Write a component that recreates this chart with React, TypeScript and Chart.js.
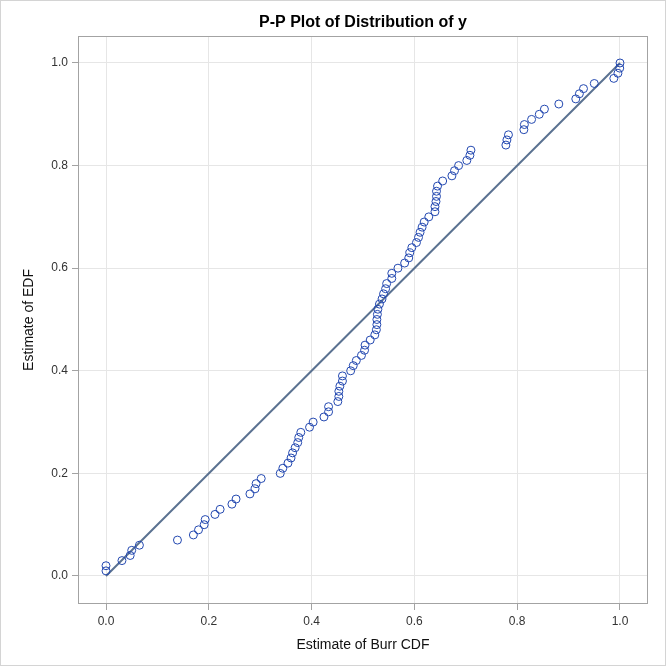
import React, { useEffect, useRef } from "react";
import { Chart, registerables } from "chart.js";

Chart.register(...registerables);

// Estimate of Burr CDF (x) for each sorted observation
const burrCdf: number[] = [
  0.0, 0.0, 0.031, 0.047, 0.05, 0.065, 0.139, 0.17, 0.18, 0.191,
  0.193, 0.212, 0.222, 0.245, 0.253, 0.28, 0.29, 0.292, 0.302, 0.339,
  0.344, 0.354, 0.36, 0.363, 0.368, 0.373, 0.375, 0.379, 0.396, 0.403,
  0.424, 0.433, 0.433, 0.451, 0.453, 0.453, 0.455, 0.46, 0.46, 0.476,
  0.481, 0.487, 0.497, 0.503, 0.504, 0.514, 0.523, 0.526, 0.527, 0.527,
  0.528, 0.529, 0.532, 0.537, 0.54, 0.544, 0.546, 0.556, 0.556, 0.568,
  0.581, 0.589, 0.591, 0.595, 0.604, 0.608, 0.611, 0.615, 0.619, 0.628,
  0.64, 0.64, 0.642, 0.643, 0.643, 0.645, 0.655, 0.673, 0.678, 0.686,
  0.702, 0.708, 0.71, 0.778, 0.78, 0.783, 0.813, 0.814, 0.828, 0.843,
  0.853, 0.881, 0.914, 0.921, 0.929, 0.95, 0.988, 0.996, 0.9995, 1.0,
];

// Estimate of EDF (y)
const edf: number[] = [
  0.01, 0.02, 0.03, 0.04, 0.05, 0.06, 0.07, 0.08, 0.09, 0.1,
  0.11, 0.12, 0.13, 0.14, 0.15, 0.16, 0.17, 0.18, 0.19, 0.2,
  0.21, 0.22, 0.23, 0.24, 0.25, 0.26, 0.27, 0.28, 0.29, 0.3,
  0.31, 0.32, 0.33, 0.34, 0.35, 0.36, 0.37, 0.38, 0.39, 0.4,
  0.41, 0.42, 0.43, 0.44, 0.45, 0.46, 0.47, 0.48, 0.49, 0.5,
  0.51, 0.52, 0.53, 0.54, 0.55, 0.56, 0.57, 0.58, 0.59, 0.6,
  0.61, 0.62, 0.63, 0.64, 0.65, 0.66, 0.67, 0.68, 0.69, 0.7,
  0.71, 0.72, 0.73, 0.74, 0.75, 0.76, 0.77, 0.78, 0.79, 0.8,
  0.81, 0.82, 0.83, 0.84, 0.85, 0.86, 0.87, 0.88, 0.89, 0.9,
  0.91, 0.92, 0.93, 0.94, 0.95, 0.96, 0.97, 0.98, 0.99, 1.0,
];

// Reference diagonal
const refLineX: number[] = [0, 1];
const refLineY: number[] = [0, 1];

const xTicks: number[] = [0, 0.2, 0.4, 0.6, 0.8, 1.0];
const yTicks: number[] = [0, 0.2, 0.4, 0.6, 0.8, 1.0];

const chartTitle = "P-P Plot of Distribution of y";

const FONT = "'Liberation Sans', Arial, Helvetica, sans-serif";

const framePlugin = {
  id: "framePlugin",
  afterDraw(chart: any) {
    const { ctx, chartArea, width, height } = chart;
    ctx.save();
    ctx.lineWidth = 1;
    ctx.strokeStyle = "#a3a3a3";
    ctx.strokeRect(
      Math.round(chartArea.left) + 0.5,
      Math.round(chartArea.top) + 0.5,
      Math.round(chartArea.right - chartArea.left) - 1,
      Math.round(chartArea.bottom - chartArea.top) - 1
    );
    ctx.strokeStyle = "#d4d4d4";
    ctx.strokeRect(0.5, 0.5, width - 1, height - 1);
    // title centred over the plot area
    ctx.fillStyle = "#000";
    ctx.font = `bold 16px ${FONT}`;
    ctx.textAlign = "center";
    ctx.textBaseline = "alphabetic";
    ctx.fillText(chartTitle, (chartArea.left + chartArea.right) / 2, 27);
    ctx.restore();
  },
};

export default function App() {
  const ref = useRef<HTMLCanvasElement | null>(null);

  useEffect(() => {
    if (!ref.current) return;
    const points = burrCdf.map((x, i) => ({ x, y: edf[i] }));
    const line = refLineX.map((x, i) => ({ x, y: refLineY[i] }));
    const chart = new Chart(ref.current, {
      type: "scatter",
      data: {
        datasets: [
          {
            label: "Reference",
            data: line,
            showLine: true,
            borderColor: "#5b7291",
            borderWidth: 2,
            pointRadius: 0,
            order: 2,
          },
          {
            label: "EDF",
            data: points,
            pointRadius: 4,
            pointBorderWidth: 1,
            pointBorderColor: "#2348b0",
            pointBackgroundColor: "rgba(255,255,255,0)",
            order: 1,
          },
        ],
      },
      options: {
        responsive: false,
        animation: false,
        devicePixelRatio: 1,
        layout: { padding: { left: 0, right: 18, top: 36, bottom: 0 } },
        plugins: {
          legend: { display: false },
          tooltip: { enabled: false },
          title: { display: false },
        },
        scales: {
          x: {
            type: "linear",
            min: -0.0545,
            max: 1.0545,
            afterBuildTicks: (s: any) => {
              s.ticks = xTicks.map((v) => ({ value: v }));
            },
            afterFit: (s: any) => {
              s.height = 62;
            },
            grid: {
              color: "#e6e6e6",
              tickColor: "#a3a3a3",
              tickLength: 6,
            },
            border: { display: false },
            ticks: {
              color: "#333",
              font: { family: FONT, size: 12 },
              padding: 4,
              maxRotation: 0,
              callback: (v: any) => Number(v).toFixed(1),
            },
            title: {
              display: true,
              text: "Estimate of Burr CDF",
              color: "#111",
              font: { family: FONT, size: 14 },
              padding: { top: 0, bottom: 12 },
            },
          },
          y: {
            type: "linear",
            min: -0.0546,
            max: 1.0526,
            afterBuildTicks: (s: any) => {
              s.ticks = yTicks.map((v) => ({ value: v }));
            },
            afterFit: (s: any) => {
              s.width = 78;
            },
            grid: {
              color: "#e6e6e6",
              tickColor: "#a3a3a3",
              tickLength: 6,
            },
            border: { display: false },
            ticks: {
              color: "#333",
              font: { family: FONT, size: 12 },
              padding: 4,
              callback: (v: any) => Number(v).toFixed(1),
            },
            title: {
              display: true,
              text: "Estimate of EDF",
              color: "#111",
              font: { family: FONT, size: 14 },
              padding: { top: 21, bottom: 0 },
            },
          },
        },
      },
      plugins: [framePlugin],
    });
    return () => chart.destroy();
  }, []);

  return (
    <div
      style={{
        position: "fixed",
        left: 0,
        top: 0,
        width: 666,
        height: 666,
        background: "#fff",
      }}
    >
      <canvas ref={ref} width={666} height={666} style={{ display: "block" }} />
    </div>
  );
}
